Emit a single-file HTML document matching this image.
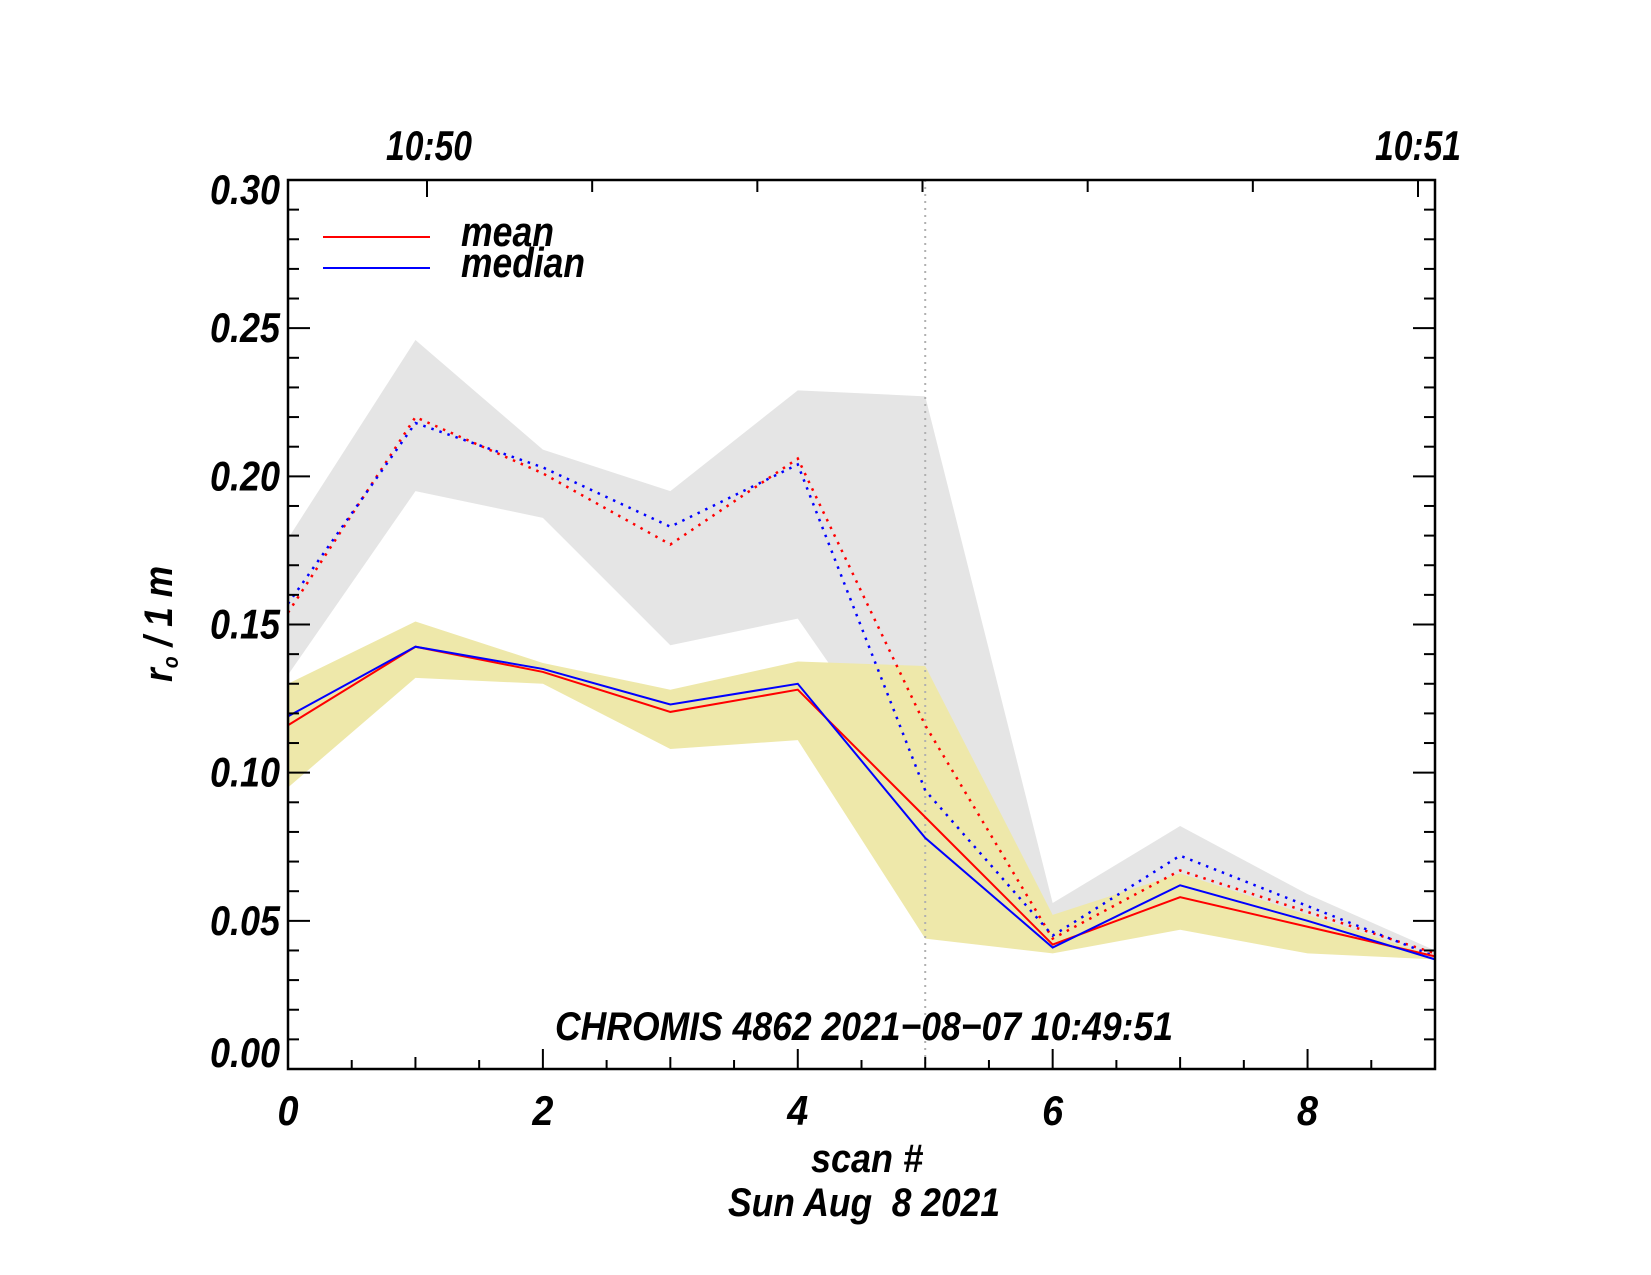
<!DOCTYPE html>
<html><head><meta charset="utf-8"><style>
html,body{margin:0;padding:0;background:#fff;}
svg{display:block;}
text{font-family:"Liberation Sans",sans-serif;font-weight:bold;font-style:italic;fill:#000;}
</style></head><body>
<svg id="chart" width="1651" height="1275" viewBox="0 0 1651 1275" xmlns="http://www.w3.org/2000/svg">
<g id="bands"></g><g id="lines"></g><g id="axes"></g><g id="labels"></g>
</svg>
<script>
const scans=[0,1,2,3,4,5,6,7,8,9];
const grayUpper=[0.179,0.246,0.209,0.195,0.229,0.227,0.056,0.082,0.059,0.040];
const grayLower=[0.133,0.195,0.186,0.143,0.152,0.090,0.045,0.060,0.050,0.038];
const yellowUpper=[0.130,0.151,0.137,0.128,0.1375,0.136,0.052,0.066,0.052,0.038];
const yellowLower=[0.095,0.132,0.130,0.108,0.111,0.044,0.039,0.047,0.039,0.037];
const meanSolid=[0.116,0.1425,0.134,0.1205,0.128,0.085,0.042,0.058,0.048,0.038];
const medianSolid=[0.119,0.1425,0.135,0.123,0.130,0.078,0.041,0.062,0.050,0.037];
const meanDotted=[0.154,0.220,0.201,0.177,0.206,0.116,0.044,0.067,0.053,0.039];
const medianDotted=[0.157,0.218,0.203,0.183,0.204,0.094,0.045,0.072,0.055,0.038];
const yTicks=["0.00","0.05","0.10","0.15","0.20","0.25","0.30"];
const xTicks=["0","2","4","6","8"];
const topTicks=["10:50","10:51"];

const NS="http://www.w3.org/2000/svg";
const X0=288,X1=1435,Y0=1069,Y1=180;
const xs=v=>X0+(v-0)/(9-0)*(X1-X0);
const ys=v=>Y0-(v-0)/(0.30-0)*(Y0-Y1);
function mk(tag,attrs,parent){const e=document.createElementNS(NS,tag);for(const k in attrs)e.setAttribute(k,attrs[k]);parent.appendChild(e);return e;}
const bands=document.getElementById('bands'),lines=document.getElementById('lines'),axes=document.getElementById('axes'),labels=document.getElementById('labels');

function band(up,lo,color,name){
  const pts=scans.map((s,i)=>xs(s)+','+ys(up[i])).concat(scans.slice().reverse().map((s,j)=>{const i=scans.length-1-j;return xs(s)+','+ys(lo[i]);}));
  const p=mk('polygon',{points:pts.join(' '),fill:color},bands);
  
  
}
band(grayUpper,grayLower,'#e5e5e5','dotted-range-band');
band(yellowUpper,yellowLower,'#eee8aa','solid-range-band');

const vl=mk('line',{x1:xs(5),x2:xs(5),y1:Y1,y2:Y0,stroke:'#b0b0b0','stroke-width':2,'stroke-dasharray':'2,5'},lines);



function series(vals,color,dotted,name){
  const p=mk('polyline',{points:scans.map((s,i)=>xs(s)+','+ys(vals[i])).join(' '),fill:'none',stroke:color,'stroke-width':2},lines);
  if(dotted){p.setAttribute('stroke-dasharray','2.5,6');p.setAttribute('stroke-width','2.5');}
  
  
}
series(meanDotted,'#ff0000',true,'mean-dotted-line');
series(medianDotted,'#0000ff',true,'median-dotted-line');
series(meanSolid,'#ff0000',false,'mean-line');
series(medianSolid,'#0000ff',false,'median-line');

const fr=mk('rect',{x:X0,y:Y1,width:X1-X0,height:Y0-Y1,fill:'none',stroke:'#000','stroke-width':2.5},axes);



for(let k=0;k<=30;k++){
  const v=k*0.01,y=ys(v),maj=k%5===0,L=maj?22:11;
  mk('line',{x1:X0,x2:X0+L,y1:y,y2:y,stroke:'#000','stroke-width':2},axes);
  mk('line',{x1:X1,x2:X1-L,y1:y,y2:y,stroke:'#000','stroke-width':2},axes);
}
yTicks.forEach((t,i)=>{
  let off=14; if(i===0) off=-2; if(i===yTicks.length-1) off=24;
  const e=mk('text',{x:280,y:ys(parseFloat(t))+off,'text-anchor':'end','font-size':42,textLength:70,lengthAdjust:'spacingAndGlyphs'},labels);
  e.textContent=t;
  
  
});
for(let k=0;k<=18;k++){
  const v=k*0.5,x=xs(v),maj=k%4===0,L=maj?20:(k%2===0?12:9);
  mk('line',{x1:x,x2:x,y1:Y0,y2:Y0-L,stroke:'#000','stroke-width':2},axes);
}
xTicks.forEach(t=>{
  const e=mk('text',{x:xs(parseFloat(t)),y:1125,'text-anchor':'middle','font-size':42,textLength:21,lengthAdjust:'spacingAndGlyphs'},labels);
  e.textContent=t;
  
  
});
const tA=427,tB=1418;
for(let k=0;k<=6;k++){
  const x=tA+k*(tB-tA)/6,L=(k===0||k===6)?17:12;
  mk('line',{x1:x,x2:x,y1:Y1,y2:Y1+L,stroke:'#000','stroke-width':2},axes);
}
topTicks.forEach((t,i)=>{
  const e=mk('text',{x:i?tB:tA+2,y:160,'text-anchor':'middle','font-size':42,textLength:86,lengthAdjust:'spacingAndGlyphs'},labels);
  e.textContent=t;
  
  
});

const lg=mk('g',{},labels);


[['mean','#ff0000',237,93],['median','#0000ff',268,124]].forEach(([n,c,y,w])=>{
  const l=mk('line',{x1:323,x2:430,y1:y,y2:y,stroke:c,'stroke-width':2},lg);
  
  
  const t=mk('text',{x:461,y:y+9,'font-size':42,textLength:w,lengthAdjust:'spacingAndGlyphs'},lg);
  t.textContent=n;
  
  
});
</script>
<svg style="position:absolute;left:0;top:0" width="1651" height="1275" xmlns="http://www.w3.org/2000/svg">
<text x="555" y="1040" font-size="40" textLength="618" lengthAdjust="spacingAndGlyphs">CHROMIS 4862 2021−08−07 10:49:51</text>
<text x="867" y="1172" font-size="40" text-anchor="middle" textLength="112" lengthAdjust="spacingAndGlyphs">scan #</text>
<text x="864" y="1216" font-size="40" text-anchor="middle" textLength="272" lengthAdjust="spacingAndGlyphs" xml:space="preserve">Sun Aug  8 2021</text>
<g transform="translate(172,624) rotate(-90)">
<text x="-58" y="0" font-size="40" textLength="116" lengthAdjust="spacingAndGlyphs">r<tspan font-size="22" dy="6">o</tspan><tspan dy="-6"> / 1 m</tspan></text>
</g>
</svg>
</body></html>
